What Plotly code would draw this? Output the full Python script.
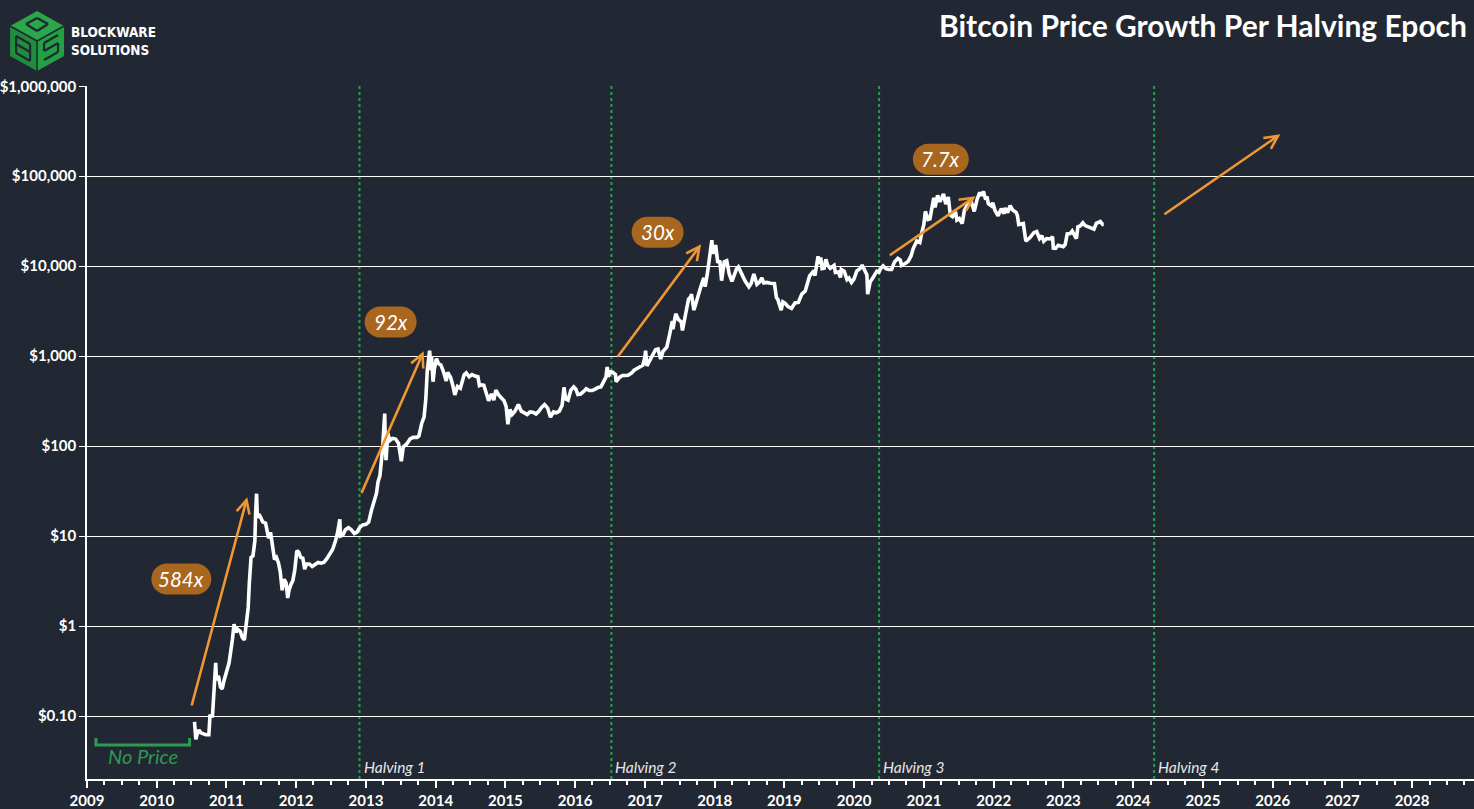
import plotly.graph_objects as go
import pandas as pd
import numpy as np

# ---------------- data ----------------
dates = [
"2010-07-18","2010-07-20","2010-07-25","2010-08-01","2010-08-10","2010-08-20","2010-09-01","2010-09-15",
"2010-10-01","2010-10-07","2010-10-20","2010-10-28","2010-11-06","2010-11-10","2010-11-20","2010-12-01",
"2010-12-10","2010-12-20","2011-01-01","2011-01-15","2011-02-01","2011-02-10","2011-02-20","2011-03-01",
"2011-03-15","2011-03-25","2011-04-05","2011-04-15","2011-04-25","2011-05-01","2011-05-10","2011-05-20",
"2011-05-30","2011-06-03","2011-06-08","2011-06-12","2011-06-20","2011-06-30","2011-07-10","2011-07-25",
"2011-08-10","2011-08-20","2011-08-30","2011-09-10","2011-09-20","2011-10-01","2011-10-10","2011-10-20",
"2011-10-30","2011-11-10","2011-11-18","2011-11-25","2011-12-05","2011-12-15","2011-12-25","2012-01-05",
"2012-01-15","2012-01-25","2012-02-05","2012-02-15","2012-02-25","2012-03-10","2012-03-25","2012-04-10",
"2012-04-25","2012-05-10","2012-05-25","2012-06-10","2012-06-25","2012-07-10","2012-07-25","2012-08-05",
"2012-08-17","2012-08-20","2012-09-01","2012-09-15","2012-10-01","2012-10-15","2012-11-01","2012-11-15",
"2012-12-01","2012-12-15","2013-01-01","2013-01-15","2013-01-30","2013-02-10","2013-02-25","2013-03-05",
"2013-03-15","2013-03-28","2013-04-04","2013-04-09","2013-04-12","2013-04-16","2013-04-25","2013-05-05",
"2013-05-20","2013-06-05","2013-06-20","2013-07-05","2013-07-15","2013-08-01","2013-08-20","2013-09-05",
"2013-09-25","2013-10-05","2013-10-20","2013-11-01","2013-11-10","2013-11-18","2013-11-30","2013-12-07",
"2013-12-10","2013-12-18","2013-12-25","2014-01-05","2014-01-15","2014-01-28","2014-02-10","2014-02-20",
"2014-02-25","2014-03-05","2014-03-20","2014-04-01","2014-04-11","2014-04-25","2014-05-10","2014-05-30",
"2014-06-10","2014-06-25","2014-07-10","2014-07-25","2014-08-10","2014-08-18","2014-08-30","2014-09-10",
"2014-09-22","2014-10-05","2014-10-20","2014-11-01","2014-11-12","2014-11-25","2014-12-10","2014-12-25",
"2015-01-05","2015-01-14","2015-01-25","2015-02-05","2015-02-20","2015-03-10","2015-03-25","2015-04-10",
"2015-04-25","2015-05-10","2015-05-25","2015-06-10","2015-06-25","2015-07-10","2015-07-25","2015-08-10",
"2015-08-25","2015-09-10","2015-09-25","2015-10-10","2015-10-25","2015-11-04","2015-11-12","2015-11-25",
"2015-12-10","2015-12-25","2016-01-05","2016-01-15","2016-01-30","2016-02-15","2016-02-28","2016-03-15",
"2016-03-30","2016-04-15","2016-04-30","2016-05-15","2016-05-30","2016-06-10","2016-06-17","2016-06-22",
"2016-07-05","2016-07-15","2016-07-30","2016-08-03","2016-08-20","2016-09-05","2016-09-20","2016-10-05",
"2016-10-25","2016-11-05","2016-11-20","2016-12-05","2016-12-20","2016-12-31","2017-01-04","2017-01-11",
"2017-01-25","2017-02-10","2017-02-25","2017-03-10","2017-03-24","2017-04-05","2017-04-25","2017-05-10",
"2017-05-24","2017-05-27","2017-06-11","2017-06-25","2017-07-10","2017-07-16","2017-07-25","2017-08-05",
"2017-08-17","2017-08-30","2017-09-01","2017-09-14","2017-09-25","2017-10-10","2017-10-20","2017-11-05",
"2017-11-12","2017-11-25","2017-12-05","2017-12-10","2017-12-17","2017-12-22","2017-12-28","2018-01-06",
"2018-01-17","2018-01-28","2018-02-06","2018-02-20","2018-03-05","2018-03-18","2018-04-01","2018-04-25",
"2018-05-05","2018-05-29","2018-06-10","2018-06-29","2018-07-10","2018-07-25","2018-08-10","2018-08-25",
"2018-09-05","2018-09-15","2018-10-01","2018-10-20","2018-11-10","2018-11-20","2018-11-28","2018-12-15",
"2018-12-24","2019-01-05","2019-01-20","2019-02-07","2019-02-25","2019-03-15","2019-04-02","2019-04-20",
"2019-05-13","2019-05-30","2019-06-10","2019-06-26","2019-07-02","2019-07-10","2019-07-17","2019-07-28",
"2019-08-06","2019-08-15","2019-08-29","2019-09-18","2019-09-25","2019-10-10","2019-10-22","2019-10-26",
"2019-11-10","2019-11-25","2019-12-05","2019-12-18","2019-12-31","2020-01-15","2020-02-01","2020-02-12",
"2020-02-28","2020-03-08","2020-03-12","2020-03-25","2020-04-06","2020-04-29","2020-05-10","2020-05-20",
"2020-06-01","2020-06-15","2020-07-01","2020-07-15","2020-07-30","2020-08-17","2020-08-30","2020-09-05",
"2020-09-25","2020-10-10","2020-10-25","2020-11-05","2020-11-24","2020-12-10","2020-12-20","2020-12-31",
"2021-01-08","2021-01-22","2021-02-01","2021-02-10","2021-02-21","2021-02-28","2021-03-13","2021-03-25",
"2021-04-13","2021-04-25","2021-05-08","2021-05-19","2021-05-30","2021-06-15","2021-06-22","2021-07-05",
"2021-07-20","2021-07-31","2021-08-14","2021-08-25","2021-09-06","2021-09-21","2021-10-06","2021-10-20",
"2021-10-28","2021-11-08","2021-11-18","2021-11-28","2021-12-04","2021-12-20","2021-12-27","2022-01-08",
"2022-01-24","2022-02-10","2022-02-24","2022-03-02","2022-03-15","2022-03-28","2022-04-10","2022-04-28",
"2022-05-05","2022-05-12","2022-05-25","2022-06-05","2022-06-18","2022-06-30","2022-07-10","2022-07-30",
"2022-08-14","2022-08-29","2022-09-10","2022-09-20","2022-10-05","2022-10-25","2022-11-05","2022-11-09",
"2022-11-21","2022-12-05","2022-12-20","2022-12-31","2023-01-10","2023-01-21","2023-02-05","2023-02-16",
"2023-03-10","2023-03-18","2023-03-30","2023-04-13","2023-04-25","2023-05-10","2023-05-25","2023-06-10",
"2023-06-22","2023-07-05","2023-07-13","2023-07-25","2023-07-31",
]
prices = [
0.086,0.07,0.055,0.063,0.07,0.065,0.063,0.062,
0.062,0.1,0.1,0.17,0.39,0.25,0.28,0.21,
0.2,0.25,0.3,0.39,0.7,1.05,0.85,0.92,
0.87,0.75,0.7,1.05,1.6,3.0,5.8,6.0,
8.8,18,29.6,16,17.5,16.1,14.4,13.9,
9.5,11,8.2,5.5,5.8,5.0,4.0,2.5,
3.3,3.0,2.05,2.5,2.9,3.2,4.2,6.9,
6.6,5.8,5.7,4.3,4.9,4.9,4.6,4.9,
5.1,5.0,5.1,5.6,6.4,7.1,8.8,10.9,
15.4,10,10.2,11.8,12.4,11.8,10.7,11.1,
12.6,13.3,13.5,14.3,19.5,24,30,40,
47,90,140,230,100,70,140,115,
122,120,108,68,98,105,120,125,
125,130,180,210,330,700,1150,700,
1000,520,720,940,830,800,680,560,
530,660,580,470,370,460,440,620,
650,590,625,600,590,470,480,475,
400,320,380,325,420,375,345,320,
275,175,255,225,245,290,245,236,
225,240,238,228,244,270,290,265,
210,240,235,245,285,450,335,325,
420,455,430,375,380,405,435,415,
415,430,450,455,530,580,760,590,
670,665,625,520,580,610,610,612,
655,700,730,760,790,960,1150,780,
890,990,1180,1200,930,1130,1260,1750,
2450,2000,2960,2550,2400,1930,2600,3200,
4300,4600,4900,3250,3900,4800,5900,7400,
5900,8700,11700,15000,19500,13800,14500,17200,
10900,11500,6900,11200,11500,8200,6800,9300,
9800,7400,6800,5900,6400,8200,6300,6700,
7400,6500,6600,6450,6400,4500,4250,3250,
4000,3850,3550,3400,3900,3950,4900,5300,
7800,8600,7900,12900,10600,12500,9400,9500,
11900,10300,9500,10200,8500,8600,7500,9200,
8800,7100,7400,6600,7200,8800,9400,10300,
8700,8000,4900,6700,7300,8800,8600,9500,
10100,9400,9200,9200,11100,12200,11700,10200,
10700,11300,13000,15600,19100,18300,23500,29000,
40700,33000,33500,44800,57500,45200,61200,52000,
63500,49000,58800,37000,35600,40200,32500,33800,
29800,41500,47000,48900,51800,40600,55300,66000,
60600,67500,56900,57200,49400,46700,50700,41600,
36300,43600,38300,44400,39300,47100,42200,39700,
36600,29000,29600,29900,19000,19800,20800,23600,
24300,20300,21800,18900,20300,20100,21300,15900,
15800,17100,16900,16500,17400,22800,23000,24600,
20300,27400,28000,30400,28300,27600,26500,25800,
30000,30500,31400,29200,29200,
]

halving_dates = ["2012-11-28", "2016-07-09", "2020-05-11", "2024-04-20"]
halving_labels = ["Halving 1", "Halving 2", "Halving 3", "Halving 4"]

y_tickvals = [0.1, 1, 10, 100, 1000, 10000, 100000, 1000000]
y_ticktext = ["$0.10", "$1", "$10", "$100", "$1,000", "$10,000", "$100,000", "$1,000,000"]

# growth arrows: start / end (date, price)
arrow_start_dates = ["2010-07-01", "2012-12-05", "2016-08-05", "2020-06-28", "2024-06-05"]
arrow_start_prices = [0.126, 29, 950, 12900, 36800]
arrow_end_dates = ["2011-04-20", "2013-10-30", "2017-10-22", "2021-09-28", "2026-02-10"]
arrow_end_prices = [27, 1136, 17500, 60000, 293000]

growth_labels = ["584x", "92x", "30x", "7.7x"]
label_dates = ["2010-05-10", "2013-05-10", "2017-03-08", "2021-03-30"]
label_prices = [3.33, 2390, 23900, 154500]
label_widths = [60, 52, 52, 56]

# "No Price" bracket
noprice_dates = ["2009-02-17", "2009-02-17", "2010-06-22", "2010-06-22"]
noprice_prices = [0.057, 0.0477, 0.0477, 0.057]
noprice_label_date, noprice_label_price = "2009-10-20", 0.0359

# ---------------- styling ----------------
BG = "#222833"
ORANGE = "#EE9733"
PILL = "#A8661F"
GREEN = "#2E9A52"
FONT = "Lato"

fig = go.Figure()
fig.add_trace(go.Scatter(
    x=pd.to_datetime(dates), y=prices, mode="lines",
    line=dict(color="white", width=3.6), hoverinfo="skip", showlegend=False,
))
fig.add_trace(go.Scatter(
    x=pd.to_datetime(noprice_dates), y=noprice_prices, mode="lines",
    line=dict(color=GREEN, width=3), hoverinfo="skip", showlegend=False,
))

shapes = []
annotations = []

# halving lines
for d, lab in zip(halving_dates, halving_labels):
    shapes.append(dict(type="line", xref="x", yref="paper", x0=d, x1=d, y0=0, y1=1,
                       line=dict(color="#2E9A52", width=2, dash="dot"), layer="below"))
    annotations.append(dict(x=d, y=0, xref="x", yref="paper", text=lab, showarrow=False,
                            xanchor="left", yanchor="bottom", xshift=2, yshift=1,
                            font=dict(family=FONT, size=15.5, color="#E6E6E6", style="italic")))

# arrows
for sd, sp, ed, ep in zip(arrow_start_dates, arrow_start_prices, arrow_end_dates, arrow_end_prices):
    annotations.append(dict(x=ed, y=np.log10(ep), ax=sd, ay=np.log10(sp),
                            xref="x", yref="y", axref="x", ayref="y", text="",
                            showarrow=True, arrowhead=5, arrowsize=1.0, arrowwidth=2.6,
                            arrowcolor=ORANGE, standoff=0, startstandoff=0))

# growth pills
def pill_path(w, h):
    r = h / 2.0
    a = w / 2.0 - r
    k = 0.5523 * r
    return (f"M {-a},{-r} L {a},{-r} "
            f"C {a + k},{-r} {a + r},{-k} {a + r},0 "
            f"C {a + r},{k} {a + k},{r} {a},{r} "
            f"L {-a},{r} "
            f"C {-a - k},{r} {-a - r},{k} {-a - r},0 "
            f"C {-a - r},{-k} {-a - k},{-r} {-a},{-r} Z")

for lab, d, p, w in zip(growth_labels, label_dates, label_prices, label_widths):
    shapes.append(dict(type="path", xref="x", yref="y", xsizemode="pixel", ysizemode="pixel",
                       xanchor=d, yanchor=p, path=pill_path(w, 31),
                       fillcolor=PILL, line=dict(width=0), layer="above"))
    annotations.append(dict(x=d, y=np.log10(p), xref="x", yref="y", text=lab, showarrow=False,
                            font=dict(family=FONT, size=20.5, color="white", style="italic")))

annotations.append(dict(x=noprice_label_date, y=np.log10(noprice_label_price), xref="x", yref="y",
                        text="No Price", showarrow=False,
                        font=dict(family=FONT, size=20, color=GREEN, style="italic")))

# title
annotations.append(dict(x=1, y=1.088, xref="paper", yref="paper", text="<b>Bitcoin Price Growth Per Halving Epoch</b>",
                        showarrow=False, xanchor="right", yanchor="middle", xshift=-5,
                        font=dict(family=FONT, size=30, color="white")))

# logo
PW, PH, PL, PB = 1389.0, 693.0, 85.0, 779.0
def P(px, py):
    return ((px - PL) / PW, (PB - py) / PH)

def poly(points, color):
    pts = [P(x, y) for x, y in points]
    path = "M " + " L ".join(f"{x:.5f},{y:.5f}" for x, y in pts) + " Z"
    return dict(type="path", xref="paper", yref="paper", path=path, fillcolor=color,
                line=dict(width=0), layer="above")

top = [(35, 11), (62, 26), (35, 41), (8, 26)]
left = [(8, 26), (35, 41), (35, 71), (8, 56)]
right = [(35, 41), (62, 26), (62, 56), (35, 71)]
shapes += [poly(top, "#2AA64B"), poly(left, "#1E8E3C"), poly(right, "#22A044")]
def seg(p1, p2, color=BG, w=2.2):
    a, b = P(*p1), P(*p2)
    return dict(type="line", xref="paper", yref="paper", x0=a[0], y0=a[1], x1=b[0], y1=b[1],
                line=dict(color=color, width=w), layer="above")
shapes += [
    seg((35, 41), (35, 71), BG, 1.5), seg((8, 26), (35, 41), BG, 1.5), seg((35, 41), (62, 26), BG, 1.5),
    seg((24, 24), (35, 18)), seg((35, 18), (46, 24)), seg((46, 24), (35, 31)), seg((35, 31), (24, 24)),
    seg((14, 36), (14, 53)), seg((14, 36), (28, 44)), seg((14, 44), (28, 52)), seg((14, 53), (28, 61)),
    seg((28, 44), (28, 61)),
    seg((56, 35), (42, 43)), seg((42, 43), (42, 51)), seg((42, 51), (56, 43)), seg((56, 43), (56, 52)),
    seg((56, 52), (42, 60)),
]
lx, ly = P(67, 41)
annotations.append(dict(x=lx, y=ly, xref="paper", yref="paper", showarrow=False, xanchor="left", yanchor="middle",
                        align="left",
                        text="<b>BLOCKWARE</b><br><b>SOLUTIONS</b>",
                        font=dict(family="DejaVu Sans Condensed, Liberation Sans Narrow, Roboto", size=13.5,
                                  color="white")))

fig.update_layout(
    width=1474, height=809,
    margin=dict(l=85, r=0, t=86, b=30),
    paper_bgcolor=BG, plot_bgcolor=BG,
    showlegend=False,
    shapes=shapes, annotations=annotations,
    font=dict(family=FONT, color="white"),
    xaxis=dict(
        type="date", range=["2009-01-01", "2028-11-20"],
        tick0="2009-01-01", dtick="M12", tickformat="%Y",
        ticks="outside", ticklen=7, tickwidth=1.5, tickcolor="white",
        showline=True, linecolor="white", linewidth=1.5,
        showgrid=False, zeroline=False,
        tickfont=dict(family=FONT, size=15, color="white", weight="bold"),
        minor=dict(dtick="M3", ticks="outside", ticklen=4, tickcolor="white", showgrid=False),
    ),
    yaxis=dict(
        type="log", range=[-1.70, 6.003],
        tickvals=y_tickvals, ticktext=y_ticktext,
        ticks="outside", ticklen=6, tickcolor="white",
        showline=True, linecolor="white", linewidth=1.5,
        showgrid=True, gridcolor="white", gridwidth=1.2, zeroline=False,
        tickfont=dict(family=FONT, size=15, color="white", weight="bold"),
    ),
)

fig.write_html("out.html", config={"displayModeBar": False},
               post_script="document.body.style.margin='0';document.body.style.overflow='hidden';")
